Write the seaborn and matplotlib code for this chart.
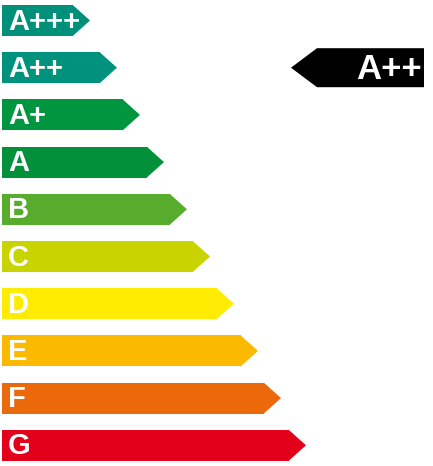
import numpy as np
import pandas as pd
import matplotlib
matplotlib.use("Agg")
import matplotlib.pyplot as plt
import seaborn as sns

# energy classes, bar lengths (px-ish units) and colours
classes = ["A+++", "A++", "A+", "A", "B", "C", "D", "E", "F", "G"]
bar_len = [71, 98, 121, 145, 168, 191, 215, 239, 262, 287]
colors = ["#00907A", "#00927D", "#009640", "#00913A", "#57AB2D",
          "#C8D300", "#FFEC00", "#FBBA00", "#EB690B", "#E2001A"]
rating = "A++"

df = pd.DataFrame({"cls": classes, "len": bar_len})

fig = plt.figure(figsize=(4.33, 4.66), dpi=100)
ax = fig.add_axes([0, 0, 1, 1])
sns.set_style("white")

row = 47.2
bh = 31 / row
sns.barplot(data=df, x="len", y="cls", hue="cls", palette=colors, order=classes,
            orient="h", width=bh, saturation=1, linewidth=0, legend=False, ax=ax)

tip = 17
for i, (c, L, col) in enumerate(zip(classes, bar_len, colors)):
    # arrow head on the right end of each bar
    ax.fill([L - 0.3, L + tip, L - 0.3], [i - bh / 2, i, i + bh / 2], color=col, lw=0)
    ax.text(6, i + 9 / row, c, color="white", fontsize=21, fontweight="bold",
            family="Liberation Sans", ha="left", va="baseline")

# pointer showing the rating
r = classes.index(rating)
ph = 19.5 / row
ax.fill([289, 315, 422, 422, 315], [r, r - ph, r - ph, r + ph, r + ph], color="black", lw=0)
ax.text(420, r + 11.5 / row, rating, color="white", fontsize=25, fontweight="bold",
        family="Liberation Sans", ha="right", va="baseline")

ax.set_xlim(-2, 431)
ax.set_ylim((466 - 20.5) / row, -20.5 / row)
ax.axis("off")
fig.savefig("out.png", dpi=100, facecolor="white")
